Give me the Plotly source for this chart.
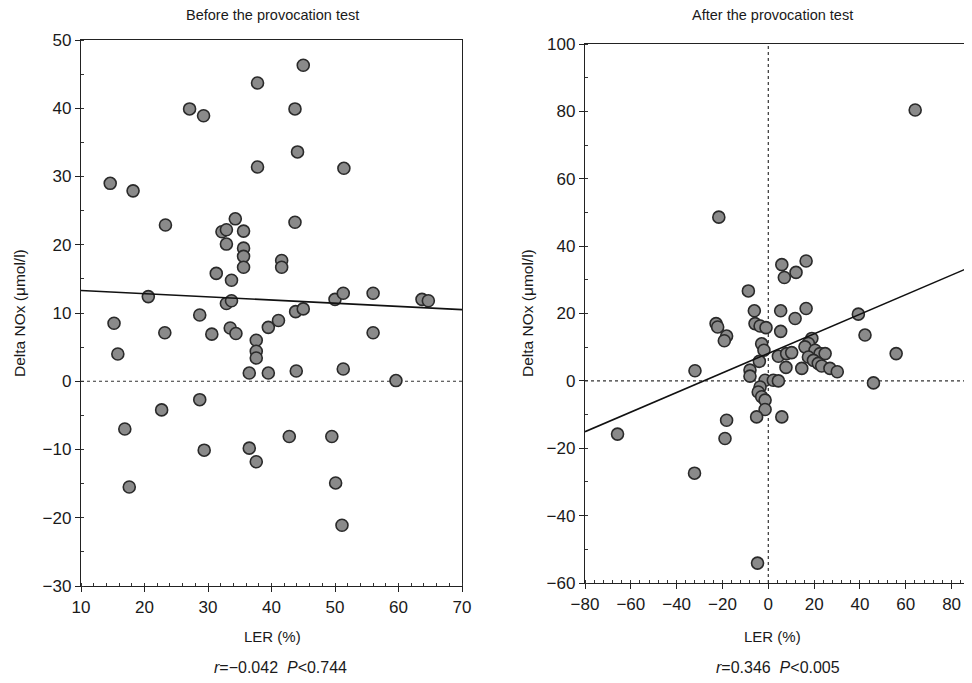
import numpy as np
import plotly.graph_objects as go

# ---------------- data ----------------
before_ler = [45.0, 37.8, 27.1, 29.3, 43.7, 44.1, 37.8, 51.4, 14.6, 18.2, 23.3, 34.3, 32.2, 32.9,
              35.6, 32.9, 35.6, 35.6, 35.6, 43.7, 41.6, 41.6, 31.3, 33.7, 20.6, 32.9, 33.7, 28.7,
              15.2, 23.2, 30.6, 33.5, 34.4, 39.5, 41.1, 43.8, 45.0, 50.0, 51.3, 56.0, 63.7, 64.7,
              56.0, 37.6, 37.6, 37.6, 15.8, 36.5, 39.5, 43.9, 51.3, 59.6, 28.7, 22.7, 16.9, 42.8,
              49.5, 29.4, 36.5, 37.6, 17.6, 50.1, 51.1]
before_nox = [46.3, 43.7, 39.9, 38.9, 39.9, 33.6, 31.4, 31.2, 29.0, 27.9, 22.9, 23.8, 21.9, 22.2,
              22.0, 20.1, 19.5, 18.3, 16.7, 23.3, 17.7, 16.7, 15.8, 14.8, 12.4, 11.4, 11.8, 9.7,
              8.5, 7.1, 6.9, 7.8, 7.0, 7.9, 8.9, 10.2, 10.6, 12.0, 12.9, 12.9, 12.0, 11.8,
              7.1, 6.0, 4.4, 3.4, 4.0, 1.2, 1.2, 1.5, 1.8, 0.1, -2.7, -4.2, -7.0, -8.1,
              -8.1, -10.1, -9.8, -11.8, -15.5, -14.9, -21.1]

after_ler = [64.1, -21.6, 16.5, 5.9, 12.1, 7.0, -8.7, -6.1, 5.4, 16.5, 39.3, 11.7, -22.8, -22.1,
             -5.8, -3.6, -1.0, 5.4, -18.2, -19.2, 42.2, -2.9, -1.9, -3.9, 55.8, 4.4, 8.0, 10.2,
             7.7, 14.6, 19.0, 17.5, 16.0, 20.4, 22.6, 24.8, 17.5, 19.7, 21.8, 23.3, 26.9, 30.1,
             -32.0, -8.0, -8.0, 45.9, -1.4, 2.2, 4.4, -3.6, -4.4, -2.9, -1.4, -1.4, -5.1, 5.9,
             -18.2, -18.9, -65.8, -32.2, -4.7]
after_nox = [80.4, 48.6, 35.6, 34.5, 32.2, 30.7, 26.7, 20.8, 20.8, 21.5, 19.8, 18.5, 17.0, 16.0,
             17.0, 16.3, 15.8, 14.7, 13.3, 11.9, 13.6, 11.0, 9.1, 5.8, 8.1, 7.3, 8.1, 8.4,
             4.0, 3.7, 12.6, 11.1, 10.1, 9.1, 8.1, 8.1, 7.1, 6.1, 5.2, 4.4, 3.7, 2.7,
             3.0, 3.2, 1.4, -0.6, 0.2, 0.2, 0.0, -1.8, -3.3, -4.7, -5.7, -8.5, -10.7, -10.7,
             -11.7, -17.1, -15.8, -27.4, -54.1]

# regression fits (intercept, slope)
before_fit = (13.77, -0.0467)
after_fit = (8.16, 0.2907)

titles = ["Before the provocation test", "After the provocation test"]
stats = ["<i>r</i>=\u22120.042  <i>P</i>&lt;0.744", "<i>r</i>=0.346  <i>P</i>&lt;0.005"]
y_title = "Delta NOx (\u03bcmol/l)"
x_title = "LER (%)"

# ---------------- layout geometry (screen pixels) ----------------
W, H = 972, 683
OFF = 8  # default page body margin
L_x0, L_x1, L_y0, L_y1 = 81, 462, 40, 586
R_x0, R_x1, R_y0, R_y1 = 585, 972, 44, 583
left_xrange = [10, 70]
left_yrange = [-30, 50]
right_xrange = [-80, 88.9]
right_yrange = [-60, 100]

def px(x):
    return (x - OFF) / W

def py(y):
    return 1 - (y - OFF) / H

FONT = "Liberation Sans, Arial, sans-serif"
INK = "#1a1a1a"
marker = dict(size=12, color="#8a8a8a", line=dict(color="#2a2a2a", width=1.6))

fig = go.Figure()

fig.add_trace(go.Scatter(x=before_ler, y=before_nox, mode="markers", marker=marker,
                         xaxis="x", yaxis="y", showlegend=False))
fig.add_trace(go.Scatter(x=after_ler, y=after_nox, mode="markers", marker=marker,
                         xaxis="x2", yaxis="y2", showlegend=False))

xl = np.array(left_xrange, dtype=float)
fig.add_trace(go.Scatter(x=xl, y=before_fit[0] + before_fit[1] * xl, mode="lines",
                         line=dict(color="#111", width=1.6), xaxis="x", yaxis="y",
                         showlegend=False, hoverinfo="skip"))
xr = np.array(right_xrange, dtype=float)
fig.add_trace(go.Scatter(x=xr, y=after_fit[0] + after_fit[1] * xr, mode="lines",
                         line=dict(color="#111", width=1.6), xaxis="x2", yaxis="y2",
                         showlegend=False, hoverinfo="skip"))

dot = dict(color="#333", width=1.2, dash="dot")
fig.add_shape(type="line", xref="x", yref="y", x0=left_xrange[0], x1=left_xrange[1], y0=0, y1=0,
              line=dot, layer="below")
fig.add_shape(type="line", xref="x2", yref="y2", x0=right_xrange[0], x1=right_xrange[1], y0=0, y1=0,
              line=dot, layer="below")
fig.add_shape(type="line", xref="x2", yref="y2", x0=0, x1=0, y0=right_yrange[0], y1=right_yrange[1],
              line=dot, layer="below")

tickfont = dict(family=FONT, size=17, color=INK)

def axis(dom, rng, dtick, minor_dtick, mirror, anchor):
    return dict(domain=dom, range=rng, dtick=dtick, tick0=0, showgrid=False, zeroline=False,
                showline=True, linecolor="#222", linewidth=1.3, mirror=mirror,
                ticks="outside", ticklen=5, tickwidth=1.2, tickcolor="#222",
                minor=dict(dtick=minor_dtick, tick0=0, ticks="inside", ticklen=3,
                           tickwidth=1, tickcolor="#333", showgrid=False),
                tickfont=tickfont, anchor=anchor, fixedrange=True, automargin=False)

fig.update_layout(
    width=W, height=H,
    margin=dict(l=0, r=0, t=0, b=0, pad=0),
    paper_bgcolor="white", plot_bgcolor="white",
    xaxis=axis([px(L_x0), px(L_x1)], left_xrange, 10, 2, True, "y"),
    yaxis=axis([py(L_y1), py(L_y0)], left_yrange, 10, 5, True, "x"),
    xaxis2=axis([px(R_x0), px(R_x1)], right_xrange, 20, 4, True, "y2"),
    yaxis2=axis([py(R_y1), py(R_y0)], right_yrange, 20, 10, False, "x2"),
)

def note(text, x, y, size, angle=0):
    fig.add_annotation(text=text, x=px(x), y=py(y), xref="paper", yref="paper",
                       xanchor="center", yanchor="middle", showarrow=False,
                       textangle=angle, font=dict(family=FONT, size=size, color=INK))

note(titles[0], 272, 15, 14.5)
note(titles[1], 772, 15, 14.5)
note(y_title, 20, 313, 15.5, -90)
note(y_title, 528, 313, 15.5, -90)
note(x_title, 272, 636, 15)
note(x_title, 772, 636, 15)
note(stats[0], 280, 667, 16)
note(stats[1], 778, 667, 16)

fig.write_html("out.html")
